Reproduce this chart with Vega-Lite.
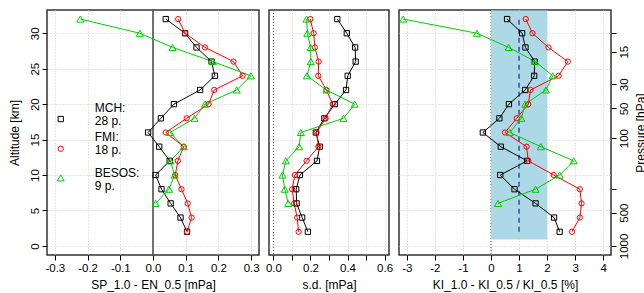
{
  "$schema": "https://vega.github.io/schema/vega-lite/v6.json",
  "padding": {"left": 7, "top": 8, "right": 0, "bottom": 0},
  "bounds": "flush",
  "spacing": 10,
  "resolve": {"scale": {"color": "independent", "shape": "independent", "stroke": "independent"}},
  "datasets": {
    "prof": [
      {"src": "MCH", "alt": 32, "diff": 0.039, "sd": 0.345, "kl": 0.575},
      {"src": "MCH", "alt": 30, "diff": 0.098, "sd": 0.396, "kl": 1.11},
      {"src": "MCH", "alt": 28, "diff": 0.133, "sd": 0.441, "kl": 1.23},
      {"src": "MCH", "alt": 26, "diff": 0.179, "sd": 0.444, "kl": 1.56},
      {"src": "MCH", "alt": 24, "diff": 0.189, "sd": 0.401, "kl": 1.54},
      {"src": "MCH", "alt": 22, "diff": 0.144, "sd": 0.392, "kl": 1.22},
      {"src": "MCH", "alt": 20, "diff": 0.064, "sd": 0.331, "kl": 0.64},
      {"src": "MCH", "alt": 18, "diff": 0.024, "sd": 0.275, "kl": 0.30},
      {"src": "MCH", "alt": 16, "diff": -0.015, "sd": 0.229, "kl": -0.29},
      {"src": "MCH", "alt": 14, "diff": 0.019, "sd": 0.250, "kl": 0.35},
      {"src": "MCH", "alt": 12, "diff": 0.051, "sd": 0.235, "kl": 1.29},
      {"src": "MCH", "alt": 10, "diff": 0.008, "sd": 0.143, "kl": 0.33},
      {"src": "MCH", "alt": 8, "diff": 0.026, "sd": 0.123, "kl": 0.84},
      {"src": "MCH", "alt": 6, "diff": 0.054, "sd": 0.125, "kl": 1.59},
      {"src": "MCH", "alt": 4, "diff": 0.084, "sd": 0.155, "kl": 2.25},
      {"src": "MCH", "alt": 2, "diff": 0.104, "sd": 0.186, "kl": 2.45},
      {"src": "FMI", "alt": 32, "diff": 0.077, "sd": 0.199, "kl": 1.24},
      {"src": "FMI", "alt": 30, "diff": 0.098, "sd": 0.217, "kl": 1.48},
      {"src": "FMI", "alt": 28, "diff": 0.159, "sd": 0.224, "kl": 2.05},
      {"src": "FMI", "alt": 26, "diff": 0.246, "sd": 0.244, "kl": 2.74},
      {"src": "FMI", "alt": 24, "diff": 0.274, "sd": 0.242, "kl": 2.41},
      {"src": "FMI", "alt": 22, "diff": 0.187, "sd": 0.286, "kl": 1.41},
      {"src": "FMI", "alt": 20, "diff": 0.170, "sd": 0.320, "kl": 1.33},
      {"src": "FMI", "alt": 18, "diff": 0.103, "sd": 0.282, "kl": 0.92},
      {"src": "FMI", "alt": 16, "diff": 0.039, "sd": 0.233, "kl": 0.50},
      {"src": "FMI", "alt": 14, "diff": 0.094, "sd": 0.243, "kl": 1.27},
      {"src": "FMI", "alt": 12, "diff": 0.076, "sd": 0.179, "kl": 1.33},
      {"src": "FMI", "alt": 10, "diff": 0.068, "sd": 0.116, "kl": 2.24},
      {"src": "FMI", "alt": 8, "diff": 0.087, "sd": 0.101, "kl": 3.17},
      {"src": "FMI", "alt": 6, "diff": 0.106, "sd": 0.112, "kl": 3.23},
      {"src": "FMI", "alt": 4, "diff": 0.118, "sd": 0.128, "kl": 3.17},
      {"src": "FMI", "alt": 2, "diff": 0.104, "sd": 0.136, "kl": 2.89},
      {"src": "BESOS", "alt": 32, "diff": -0.222, "sd": 0.179, "kl": -3.13},
      {"src": "BESOS", "alt": 30, "diff": -0.040, "sd": 0.183, "kl": -0.50},
      {"src": "BESOS", "alt": 28, "diff": 0.060, "sd": 0.201, "kl": 0.63},
      {"src": "BESOS", "alt": 26, "diff": 0.183, "sd": 0.202, "kl": 1.58},
      {"src": "BESOS", "alt": 24, "diff": 0.299, "sd": 0.181, "kl": 2.20},
      {"src": "BESOS", "alt": 22, "diff": 0.256, "sd": 0.286, "kl": 1.96},
      {"src": "BESOS", "alt": 20, "diff": 0.159, "sd": 0.439, "kl": 1.22},
      {"src": "BESOS", "alt": 18, "diff": 0.127, "sd": 0.378, "kl": 1.08},
      {"src": "BESOS", "alt": 16, "diff": 0.052, "sd": 0.148, "kl": 0.67},
      {"src": "BESOS", "alt": 14, "diff": 0.094, "sd": 0.139, "kl": 1.78},
      {"src": "BESOS", "alt": 12, "diff": 0.053, "sd": 0.067, "kl": 2.95},
      {"src": "BESOS", "alt": 10, "diff": 0.066, "sd": 0.049, "kl": 2.45},
      {"src": "BESOS", "alt": 8, "diff": 0.049, "sd": 0.061, "kl": 1.59},
      {"src": "BESOS", "alt": 6, "diff": 0.008, "sd": 0.080, "kl": 0.25}
    ]
  },
  "hconcat": [
    {
      "width": 212,
      "height": 245,
      "layer": [
        {
          "data": {"values": [{}]},
          "mark": {"type": "rule", "color": "#444444", "strokeWidth": 1.5},
          "encoding": {"x": {"datum": 0, "type": "quantitative"}}
        },
        {
          "data": {"name": "prof"},
          "mark": {"type": "line", "strokeWidth": 1},
          "encoding": {
            "x": {"field": "diff", "type": "quantitative",
              "scale": {"domain": [-0.324, 0.324], "nice": false, "zero": false},
              "axis": {"values": [-0.3, -0.2, -0.1, 0, 0.1, 0.2, 0.3], "tickCount": 30, "labelExpr": "datum.value == 0 ? '0.0' : '' + datum.value", "labelOverlap": false, "title": "SP_1.0 - EN_0.5 [mPa]", "grid": true}},
            "y": {"field": "alt", "type": "quantitative",
              "scale": {"domain": [-1.28, 33.28], "nice": false, "zero": false},
              "axis": {"values": [0, 5, 10, 15, 20, 25, 30], "tickCount": 30, "labelOverlap": false, "title": "Altitude [km]", "grid": true, "labelAngle": -90, "labelAlign": "center", "labelBaseline": "bottom", "titlePadding": 8}},
            "stroke": {"field": "src", "type": "nominal", "scale": {"domain": ["MCH", "FMI", "BESOS"], "range": ["#000000", "#FF0000", "#00CD00"]}, "legend": null},
            "order": {"field": "alt", "type": "quantitative"}
          }
        },
        {
          "data": {"name": "prof"},
          "transform": [{"filter": "datum.src != 'BESOS'"}],
          "mark": {"type": "point", "filled": false, "strokeWidth": 1, "size": 28, "opacity": 1},
          "encoding": {
            "x": {"field": "diff", "type": "quantitative"},
            "y": {"field": "alt", "type": "quantitative"},
            "color": {"field": "src", "type": "nominal", "scale": {"domain": ["MCH", "FMI", "BESOS"], "range": ["#000000", "#FF0000", "#00CD00"]}, "legend": null},
            "shape": {"field": "src", "type": "nominal", "scale": {"domain": ["MCH", "FMI", "BESOS"], "range": ["square", "circle", "triangle-up"]}, "legend": null}
          }
        },
        {
          "data": {"name": "prof"},
          "transform": [{"filter": "datum.src == 'BESOS'"}],
          "mark": {"type": "point", "filled": false, "strokeWidth": 1, "size": 50, "opacity": 1},
          "encoding": {
            "x": {"field": "diff", "type": "quantitative"},
            "y": {"field": "alt", "type": "quantitative"},
            "color": {"field": "src", "type": "nominal", "legend": null},
            "shape": {"field": "src", "type": "nominal", "legend": null}
          }
        },
        {
          "data": {"values": [{}]},
          "mark": {"type": "point", "shape": "square", "filled": false, "color": "#000000", "strokeWidth": 1, "size": 28, "opacity": 1},
          "encoding": {"x": {"datum": -0.282, "type": "quantitative"}, "y": {"datum": 17.9, "type": "quantitative"}}
        },
        {
          "data": {"values": [{}]},
          "mark": {"type": "point", "shape": "circle", "filled": false, "color": "#FF0000", "strokeWidth": 1, "size": 28, "opacity": 1},
          "encoding": {"x": {"datum": -0.282, "type": "quantitative"}, "y": {"datum": 13.7, "type": "quantitative"}}
        },
        {
          "data": {"values": [{}]},
          "mark": {"type": "point", "shape": "triangle-up", "filled": false, "color": "#00CD00", "strokeWidth": 1, "size": 50, "opacity": 1},
          "encoding": {"x": {"datum": -0.282, "type": "quantitative"}, "y": {"datum": 9.6, "type": "quantitative"}}
        },
        {
          "data": {"values": [{}]},
          "mark": {"type": "text", "align": "left", "baseline": "middle", "fontSize": 12, "font": "Liberation Sans", "color": "#000000"},
          "encoding": {"x": {"datum": -0.178, "type": "quantitative"}, "y": {"datum": 19.5, "type": "quantitative"}, "text": {"value": "MCH:"}}
        },
        {
          "data": {"values": [{}]},
          "mark": {"type": "text", "align": "left", "baseline": "middle", "fontSize": 12, "font": "Liberation Sans", "color": "#000000"},
          "encoding": {"x": {"datum": -0.178, "type": "quantitative"}, "y": {"datum": 17.65, "type": "quantitative"}, "text": {"value": "28 p."}}
        },
        {
          "data": {"values": [{}]},
          "mark": {"type": "text", "align": "left", "baseline": "middle", "fontSize": 12, "font": "Liberation Sans", "color": "#000000"},
          "encoding": {"x": {"datum": -0.178, "type": "quantitative"}, "y": {"datum": 15.4, "type": "quantitative"}, "text": {"value": "FMI:"}}
        },
        {
          "data": {"values": [{}]},
          "mark": {"type": "text", "align": "left", "baseline": "middle", "fontSize": 12, "font": "Liberation Sans", "color": "#000000"},
          "encoding": {"x": {"datum": -0.178, "type": "quantitative"}, "y": {"datum": 13.55, "type": "quantitative"}, "text": {"value": "18 p."}}
        },
        {
          "data": {"values": [{}]},
          "mark": {"type": "text", "align": "left", "baseline": "middle", "fontSize": 12, "font": "Liberation Sans", "color": "#000000"},
          "encoding": {"x": {"datum": -0.178, "type": "quantitative"}, "y": {"datum": 10.3, "type": "quantitative"}, "text": {"value": "BESOS:"}}
        },
        {
          "data": {"values": [{}]},
          "mark": {"type": "text", "align": "left", "baseline": "middle", "fontSize": 12, "font": "Liberation Sans", "color": "#000000"},
          "encoding": {"x": {"datum": -0.178, "type": "quantitative"}, "y": {"datum": 8.5, "type": "quantitative"}, "text": {"value": "9 p."}}
        }
      ]
    },
    {
      "width": 120,
      "height": 245,
      "layer": [
        {
          "data": {"values": [{}]},
          "mark": {"type": "rule", "color": "#555555", "strokeWidth": 1, "strokeDash": [1, 2]},
          "encoding": {"x": {"datum": 0, "type": "quantitative"}}
        },
        {
          "data": {"name": "prof"},
          "mark": {"type": "line", "strokeWidth": 1},
          "encoding": {
            "x": {"field": "sd", "type": "quantitative",
              "scale": {"domain": [-0.024, 0.624], "nice": false, "zero": false},
              "axis": {"values": [0, 0.1, 0.2, 0.3, 0.4, 0.5, 0.6], "tickCount": 30, "labelOverlap": false, "labelExpr": "round(datum.value * 10) % 2 == 0 ? format(datum.value, '.1f') : ''", "title": "s.d. [mPa]", "grid": true}},
            "y": {"field": "alt", "type": "quantitative",
              "scale": {"domain": [-1.28, 33.28], "nice": false, "zero": false},
              "axis": {"values": [0, 5, 10, 15, 20, 25, 30], "tickCount": 30, "labels": false, "ticks": false, "title": null, "grid": true}},
            "stroke": {"field": "src", "type": "nominal", "scale": {"domain": ["MCH", "FMI", "BESOS"], "range": ["#000000", "#FF0000", "#00CD00"]}, "legend": null},
            "order": {"field": "alt", "type": "quantitative"}
          }
        },
        {
          "data": {"name": "prof"},
          "transform": [{"filter": "datum.src != 'BESOS'"}],
          "mark": {"type": "point", "filled": false, "strokeWidth": 1, "size": 28, "opacity": 1},
          "encoding": {
            "x": {"field": "sd", "type": "quantitative"},
            "y": {"field": "alt", "type": "quantitative"},
            "color": {"field": "src", "type": "nominal", "scale": {"domain": ["MCH", "FMI", "BESOS"], "range": ["#000000", "#FF0000", "#00CD00"]}, "legend": null},
            "shape": {"field": "src", "type": "nominal", "scale": {"domain": ["MCH", "FMI", "BESOS"], "range": ["square", "circle", "triangle-up"]}, "legend": null}
          }
        },
        {
          "data": {"name": "prof"},
          "transform": [{"filter": "datum.src == 'BESOS'"}],
          "mark": {"type": "point", "filled": false, "strokeWidth": 1, "size": 50, "opacity": 1},
          "encoding": {
            "x": {"field": "sd", "type": "quantitative"},
            "y": {"field": "alt", "type": "quantitative"},
            "color": {"field": "src", "type": "nominal", "legend": null},
            "shape": {"field": "src", "type": "nominal", "legend": null}
          }
        }
      ]
    },
    {
      "width": 212,
      "height": 245,
      "resolve": {"axis": {"y": "independent"}},
      "layer": [
        {
          "data": {"values": [{}]},
          "mark": {"type": "rule", "color": "#555555", "strokeWidth": 1, "strokeDash": [1, 2]},
          "encoding": {"x": {"datum": 0, "type": "quantitative"}}
        },
        {
          "data": {"values": [{}]},
          "mark": {"type": "rect", "color": "#ADD8E6", "opacity": 1},
          "encoding": {
            "x": {"datum": 0, "type": "quantitative"},
            "x2": {"datum": 2},
            "y": {"datum": 0.9, "type": "quantitative", "axis": null},
            "y2": {"datum": 33.2}
          }
        },
        {
          "data": {"values": [{}]},
          "mark": {"type": "rule", "color": "#00008B", "strokeWidth": 1, "strokeDash": [5, 4]},
          "encoding": {
            "x": {"datum": 1, "type": "quantitative"},
            "y": {"datum": 2, "type": "quantitative", "axis": null},
            "y2": {"datum": 32}
          }
        },
        {
          "data": {"name": "prof"},
          "mark": {"type": "line", "strokeWidth": 1},
          "encoding": {
            "x": {"field": "kl", "type": "quantitative",
              "scale": {"domain": [-3.28, 4.28], "nice": false, "zero": false},
              "axis": {"values": [-3, -2, -1, 0, 1, 2, 3, 4], "tickCount": 30, "labelOverlap": false, "labelExpr": "'' + datum.value", "title": "KI_1.0 - KI_0.5 / KI_0.5 [%]", "grid": true}},
            "y": {"field": "alt", "type": "quantitative",
              "scale": {"domain": [-1.28, 33.28], "nice": false, "zero": false},
              "axis": {"values": [0, 5, 10, 15, 20, 25, 30], "tickCount": 30, "labels": false, "ticks": false, "title": null, "grid": true}},
            "stroke": {"field": "src", "type": "nominal", "scale": {"domain": ["MCH", "FMI", "BESOS"], "range": ["#000000", "#FF0000", "#00CD00"]}, "legend": null},
            "order": {"field": "alt", "type": "quantitative"}
          }
        },
        {
          "data": {"name": "prof"},
          "transform": [{"filter": "datum.src != 'BESOS'"}],
          "mark": {"type": "point", "filled": false, "strokeWidth": 1, "size": 28, "opacity": 1},
          "encoding": {
            "x": {"field": "kl", "type": "quantitative"},
            "y": {"field": "alt", "type": "quantitative",
              "axis": {"orient": "right", "values": [30, 27.4, 22.8, 19.4, 15.2, 8, 4.7, 0], "tickCount": 30, "labelOverlap": false, "labelExpr": "datum.value == 27.4 ? '15' : datum.value == 22.8 ? '30' : datum.value == 19.4 ? '50' : datum.value == 15.2 ? '100' : datum.value == 4.7 ? '500' : datum.value == 0 ? '1000' : ''", "title": "Pressure [hPa]", "grid": false, "labelAngle": -90, "labelAlign": "center", "labelBaseline": "top", "titleAngle": -90, "titleBaseline": "top", "titlePadding": 6}},
            "color": {"field": "src", "type": "nominal", "scale": {"domain": ["MCH", "FMI", "BESOS"], "range": ["#000000", "#FF0000", "#00CD00"]}, "legend": null},
            "shape": {"field": "src", "type": "nominal", "scale": {"domain": ["MCH", "FMI", "BESOS"], "range": ["square", "circle", "triangle-up"]}, "legend": null}
          }
        },
        {
          "data": {"name": "prof"},
          "transform": [{"filter": "datum.src == 'BESOS'"}],
          "mark": {"type": "point", "filled": false, "strokeWidth": 1, "size": 50, "opacity": 1},
          "encoding": {
            "x": {"field": "kl", "type": "quantitative"},
            "y": {"field": "alt", "type": "quantitative", "axis": null},
            "color": {"field": "src", "type": "nominal", "legend": null},
            "shape": {"field": "src", "type": "nominal", "legend": null}
          }
        }
      ]
    }
  ],
  "config": {
    "font": "Liberation Sans",
    "view": {"stroke": "#333333", "strokeWidth": 1.5},
    "axis": {
      "labelFont": "Liberation Sans", "titleFont": "Liberation Sans",
      "labelFontSize": 11.5, "titleFontSize": 12, "titleFontWeight": "normal",
      "labelColor": "#000000", "titleColor": "#000000",
      "tickColor": "#000000", "tickSize": 5, "tickWidth": 1,
      "domain": false,
      "gridColor": "#cccccc", "gridDash": [1, 2], "gridWidth": 1,
      "labelOverlap": false, "labelFlush": false,
      "labelPadding": 2, "titlePadding": 6
    }
  }
}
